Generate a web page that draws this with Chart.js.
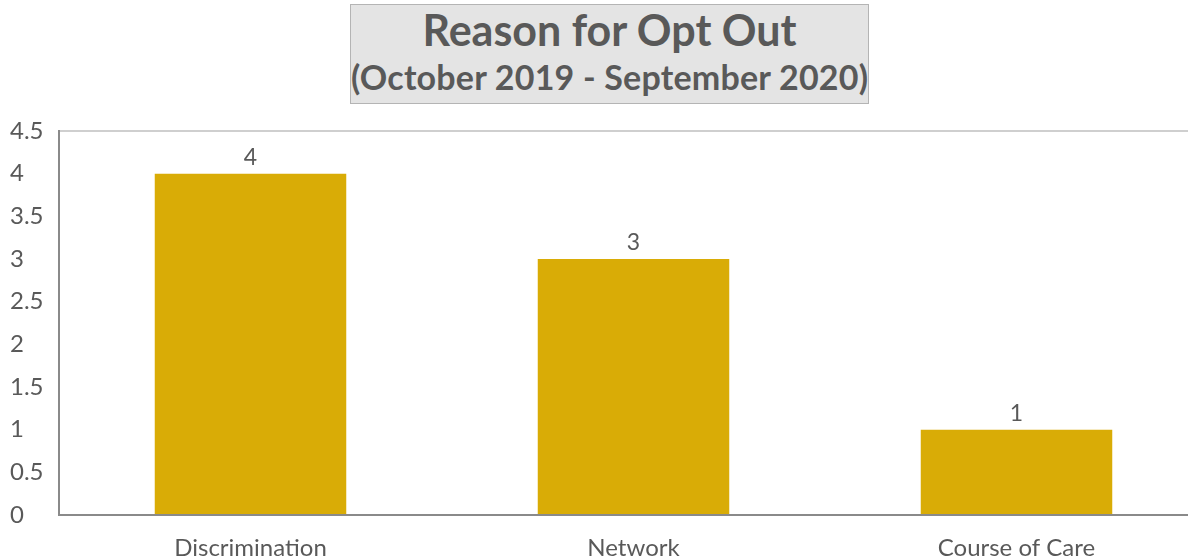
<!DOCTYPE html>
<html>
<head>
<meta charset="utf-8">
<script src="https://cdn.jsdelivr.net/npm/chart.js@4"></script>
<style>
  html, body { margin: 0; padding: 0; background: #fff; overflow: hidden; }
  #wrap { position: relative; width: 1210px; height: 560px; }
  #title-box {
    position: absolute; left: 350px; top: 4px; width: 517px; height: 98px;
    background: #e4e4e4; border: 1px solid #b4b4b4;
    font-family: Lato, "Open Sans", sans-serif; font-weight: bold; color: #595959;
    text-align: center; white-space: nowrap;
  }
  #title-box .t1 { font-size: 43px; line-height: 50px; margin-top: 0px; }
  #title-box .t2 { font-size: 34px; line-height: 44px; letter-spacing: 0.2px; }
</style>
</head>
<body>
<div id="wrap">
  <canvas id="chart" width="1210" height="560"></canvas>
  <div id="title-box">
    <div class="t1">Reason for Opt Out</div>
    <div class="t2">(October 2019 - September 2020)</div>
  </div>
</div>
<script>
// data
const categories = ["Discrimination", "Network", "Course of Care"];
const optOutCounts = [4, 3, 1];
const yTicks = [0, 0.5, 1, 1.5, 2, 2.5, 3, 3.5, 4, 4.5];

const textColor = '#595959';
const fontFamily = 'Lato, "Open Sans", sans-serif';

// simple value labels above each bar
const barValueLabels = {
    id: 'barValueLabels',
    afterDatasetsDraw(chart) {
        const ctx = chart.ctx;
        ctx.save();
        ctx.font = '23px ' + fontFamily;
        ctx.fillStyle = textColor;
        ctx.textAlign = 'center';
        ctx.textBaseline = 'bottom';
        chart.data.datasets.forEach((ds, i) => {
            chart.getDatasetMeta(i).data.forEach((bar, j) => {
                ctx.fillText(ds.data[j], bar.x, bar.y - 5);
            });
        });
        ctx.restore();
    }
};

new Chart(document.getElementById('chart'), {
    type: 'bar',
    data: {
        labels: categories,
        datasets: [{
            data: optOutCounts,
            backgroundColor: '#d9ac06',
            barPercentage: 0.5,
            categoryPercentage: 1.0
        }]
    },
    options: {
        responsive: false,
        animation: false,
        layout: { padding: { top: 131, left: 10, right: 2, bottom: 0 } },
        plugins: {
            legend: { display: false },
            tooltip: { enabled: false }
        },
        scales: {
            x: {
                grid: { display: false },
                border: { color: '#8a8a8a', width: 2 },
                ticks: {
                    color: textColor,
                    font: { family: fontFamily, size: 24 },
                    padding: 11,
                    maxRotation: 0
                },
                afterFit(scale) { scale.height = 45; }
            },
            y: {
                min: 0,
                max: 4.5,
                afterBuildTicks(scale) {
                    scale.ticks = yTicks.map(v => ({ value: v }));
                },
                grid: {
                    drawTicks: false,
                    color: c => c.tick && c.tick.value === 4.5 ? '#cfcfcf' : 'rgba(0,0,0,0)',
                    lineWidth: 2
                },
                border: { color: '#8a8a8a', width: 2 },
                ticks: {
                    color: textColor,
                    font: { family: fontFamily, size: 24 },
                    crossAlign: 'far',
                    padding: 0,
                    callback: v => String(v)
                },
                afterFit(scale) { scale.width = 49; }
            }
        }
    },
    plugins: [barValueLabels]
});
</script>
</body>
</html>
